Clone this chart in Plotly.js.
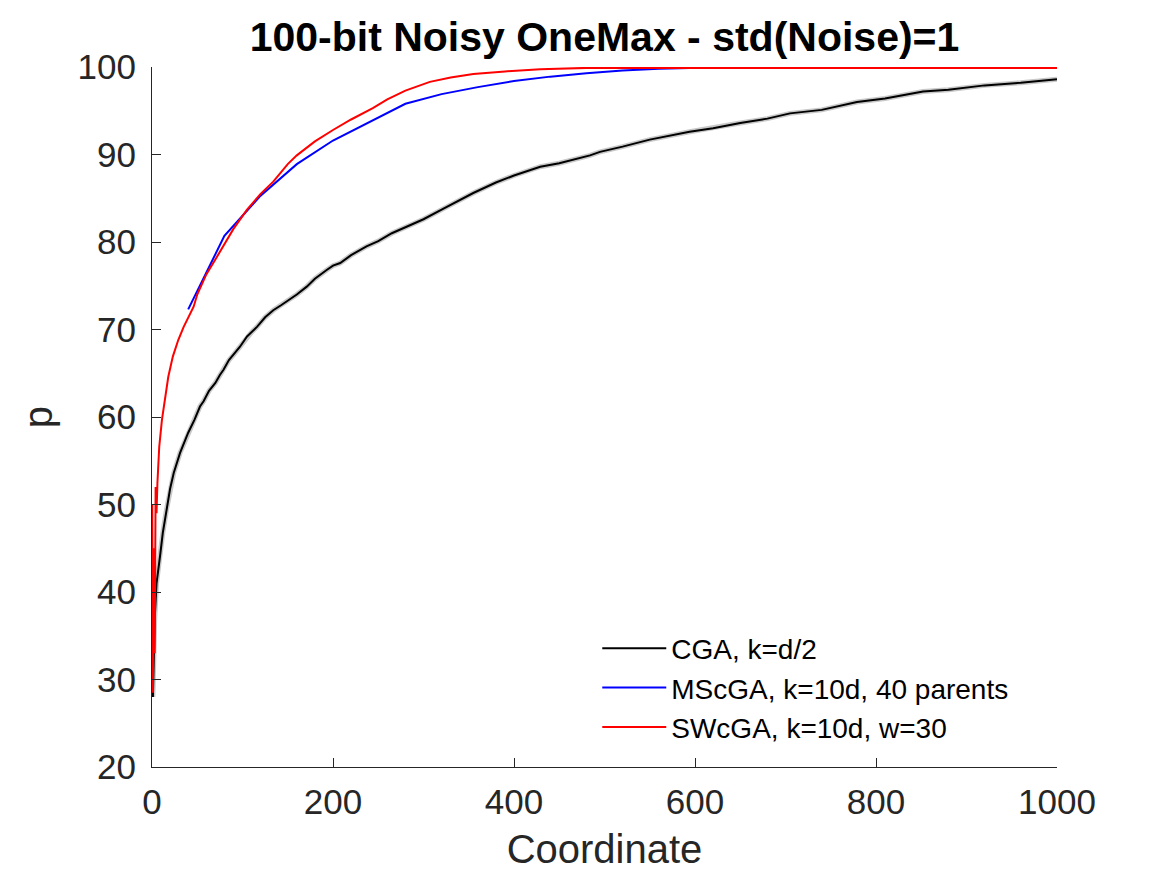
<!DOCTYPE html>
<html>
<head>
<meta charset="utf-8">
<script src="https://cdn.plot.ly/plotly-3.0.1.min.js"></script>
<style>
  body { margin: 0; background: #fff; }
  #Graph1 { width: 1167px; height: 875px; }
</style>
</head>
<body>
<div id="Graph1"></div>
<script>
// CGA, k=d/2
var cga_x = [1, 2, 3, 5, 7, 9, 12, 16, 20, 24, 31, 40, 47, 53, 57, 63, 70, 75, 79, 85, 90, 97, 105, 110, 116, 125, 134, 143, 152, 160, 171, 180, 193, 200, 208, 220, 237, 250, 265, 281, 300, 320, 340, 355, 380, 400, 429, 450, 484, 495, 520, 550, 594, 620, 650, 680, 705, 740, 779, 810, 852, 880, 920, 960, 1000]
var cga_y = [28, 33, 37, 41, 42.9, 44.2, 46.8, 49.4, 51.8, 53.6, 55.9, 58.2, 59.7, 61.2, 61.8, 63.0, 63.9, 64.8, 65.4, 66.5, 67.1, 68.0, 69.2, 69.7, 70.3, 71.4, 72.2, 72.8, 73.4, 74.0, 74.9, 75.8, 76.8, 77.3, 77.6, 78.5, 79.5, 80.1, 81.0, 81.7, 82.6, 83.7, 84.8, 85.6, 86.8, 87.6, 88.6, 89.0, 89.9, 90.3, 90.9, 91.7, 92.6, 93.0, 93.6, 94.1, 94.7, 95.1, 96.0, 96.4, 97.2, 97.4, 97.9, 98.2, 98.6]

// MScGA, k=10d, 40 parents
var mscga_x = [40, 80, 120, 160, 200, 240, 280, 320, 360, 400, 440, 480, 520, 560, 600, 640, 1000]
var mscga_y = [72.3, 80.7, 85.3, 88.9, 91.6, 93.7, 95.8, 96.9, 97.7, 98.4, 98.9, 99.3, 99.6, 99.8, 99.9, 100, 100]

// SWcGA, k=10d, w=30
var swcga_x = [0.3, 1, 2, 3, 4, 5, 6, 8, 11, 14, 18, 23, 29, 35, 40, 46, 50, 60, 70, 80, 90, 105, 120, 134, 150, 160, 180, 200, 220, 244, 260, 280, 307, 330, 355, 390, 429, 480, 600, 1000]
var swcga_y = [50, 28.5, 45, 33, 52, 49, 52.5, 56.6, 59.7, 62, 64.6, 66.9, 68.8, 70.3, 71.4, 72.6, 74.0, 76.3, 78.0, 79.8, 81.5, 83.7, 85.5, 86.9, 88.9, 89.9, 91.5, 92.8, 94.0, 95.3, 96.3, 97.3, 98.3, 98.8, 99.2, 99.5, 99.75, 99.9, 99.9, 99.9]

var tick_font = {family: "Liberation Sans, Arial, sans-serif", size: 35, color: "#262626"}

var traces = [
  {x: cga_x, y: cga_y, mode: "lines", line: {color: "#c8c8c8", width: 5}, showlegend: false, hoverinfo: "skip"},
  {x: cga_x, y: cga_y, mode: "lines", name: "CGA, k=d/2", line: {color: "#000000", width: 2}},
  {x: mscga_x, y: mscga_y, mode: "lines", name: "MScGA, k=10d, 40 parents", line: {color: "#0000ff", width: 2}},
  {x: swcga_x, y: swcga_y, mode: "lines", name: "SWcGA, k=10d, w=30", line: {color: "#ff0000", width: 2}}
]

var graph_layout = {
  width: 1167,
  height: 875,
  margin: {l: 152, r: 110, t: 67, b: 108},
  paper_bgcolor: "#ffffff",
  plot_bgcolor: "#ffffff",
  title: {
    text: "<b>100-bit Noisy OneMax - std(Noise)=1</b>",
    font: {family: "Liberation Sans, Arial, sans-serif", size: 41, color: "#000000"},
    x: 0.518, xanchor: "center", y: 0.958, yanchor: "middle"
  },
  xaxis: {
    range: [0, 1000],
    tickvals: [0, 200, 400, 600, 800, 1000],
    ticks: "inside", ticklen: 9, tickcolor: "#262626", tickwidth: 1,
    showline: true, linecolor: "#262626", linewidth: 1,
    showgrid: false, zeroline: false,
    tickfont: tick_font,
    ticklabelstandoff: 4,
    title: {text: "Coordinate", font: {family: "Liberation Sans, Arial, sans-serif", size: 40, color: "#262626"}, standoff: 14}
  },
  yaxis: {
    range: [20, 100],
    tickvals: [20, 30, 40, 50, 60, 70, 80, 90, 100],
    ticks: "inside", ticklen: 9, tickcolor: "#262626", tickwidth: 1,
    showline: true, linecolor: "#262626", linewidth: 1,
    showgrid: false, zeroline: false,
    tickfont: tick_font,
    ticklabelstandoff: 8,
    title: {text: "p", font: {family: "Liberation Sans, Arial, sans-serif", size: 40, color: "#262626"}, standoff: 12}
  },
  legend: {
    x: 0.492, y: 0.205, xanchor: "left", yanchor: "top",
    bgcolor: "rgba(0,0,0,0)", borderwidth: 0,
    font: {family: "Liberation Sans, Arial, sans-serif", size: 28, color: "#000000"},
    tracegroupgap: 0, itemwidth: 64
  }
}

Plotly.newPlot("Graph1", traces, graph_layout, {displayModeBar: false, staticPlot: true})
</script>
</body>
</html>
